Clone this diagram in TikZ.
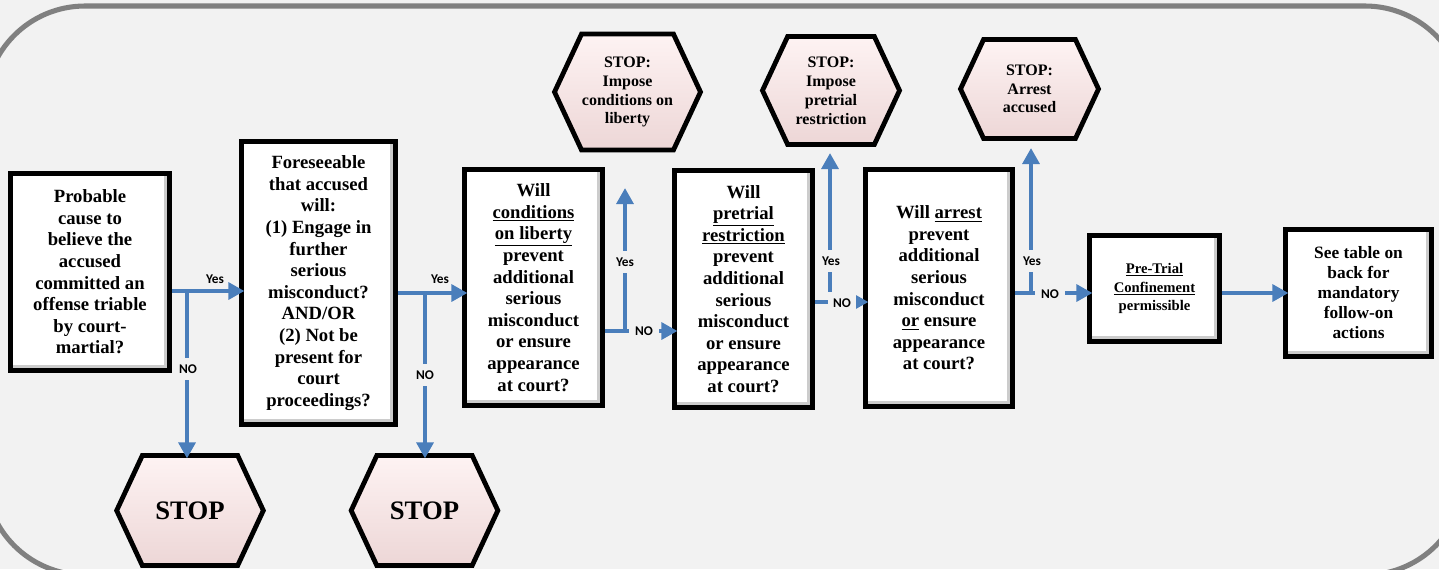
\documentclass[tikz,border=0pt]{standalone}
\usepackage{fontspec}
\setmainfont{Liberation Serif}
\newfontfamily\lblfont{Carlito}
\usepackage{tikz}
\usetikzlibrary{arrows.meta,shapes.symbols}
\definecolor{bgray}{RGB}{242,242,242}
\definecolor{framegray}{RGB}{128,128,128}
\definecolor{flowblue}{RGB}{74,126,187}
\definecolor{hexpink}{RGB}{252,228,228}

\begin{document}
\begin{tikzpicture}[x=0.75pt,y=-0.75pt,
		qbox/.style={draw=black,line width=3.6pt,fill=white,align=center,inner sep=0pt,
			font=\fontsize{14}{16.2}\selectfont\bfseries,
			path picture={\draw[black!20,line width=9pt] (path picture bounding box.south west) -- (path picture bounding box.south east) -- (path picture bounding box.north east);}},
		stophex/.style={signal,signal to=west and east,signal pointer angle=130,draw=black,line width=3.6pt,
			top color=hexpink!45!white,middle color=hexpink,bottom color=hexpink!94!black,align=center,inner sep=0pt},
		flow/.style={draw=flowblue,line width=3pt,shorten >=-4pt,-{Triangle[length=12pt,width=12.5pt]}},
		lbl/.style={font=\lblfont\bfseries\fontsize{10}{12}\selectfont,inner sep=1pt},
		cutlbl/.style={lbl,fill=bgray,inner sep=4.8pt}]
				\useasboundingbox (0,0) rectangle (1439,569);
				\clip (0,0) rectangle (1439,569);
				\fill[bgray] (0,0) rectangle (1439,569);
				\draw[framegray,line width=3.8pt,rounded corners=75pt] (-15,6) rectangle (1465,575);
				
				\node[qbox,minimum width=119.3pt,minimum height=147.8pt] (cause) at (90,272) {Probable\\cause to\\believe the\\accused\\committed an\\offense triable\\by court-\\martial?};
				\node[qbox,minimum width=115.5pt,minimum height=212.3pt] (foresee) at (318.5,283) {Foreseeable\\that accused\\will:\\(1) Engage in\\further\\serious\\misconduct?\\AND/OR\\(2) Not be\\present for\\court\\proceedings?};
				\node[qbox,minimum width=103.5pt,minimum height=177pt] (cond) at (533.5,287.5) {Will\\\underline{conditions}\\\underline{on liberty}\\prevent\\additional\\serious\\misconduct\\or ensure\\appearance\\at court?};
				\node[qbox,minimum width=103.5pt,minimum height=177.8pt] (restr) at (743.5,289) {Will\\\underline{pretrial}\\\underline{restriction}\\prevent\\additional\\serious\\misconduct\\or ensure\\appearance\\at court?};
				\node[qbox,minimum width=110.3pt,minimum height=177.8pt] (arrest) at (939,288) {Will \underline{arrest}\\prevent\\additional\\serious\\misconduct\\\underline{or} ensure\\appearance\\at court?};
				\node[qbox,minimum width=97.5pt,minimum height=79.5pt,font=\fontsize{11}{13.9}\selectfont\bfseries] (ptc) at (1154.5,288.5) {\underline{Pre-Trial}\\\underline{Confinement}\\permissible};
				\node[qbox,minimum width=109.5pt,minimum height=95.3pt,font=\fontsize{13}{15}\selectfont\bfseries] (table) at (1358.5,293) {See table on\\back for\\mandatory\\follow-on\\actions};
				
				\node[stophex,minimum width=109.5pt,minimum height=87pt,font=\fontsize{12}{14.2}\selectfont\bfseries] (stopcond) at (627.5,92) {STOP:\\Impose\\conditions on\\liberty};
				\node[stophex,minimum width=102.8pt,minimum height=81pt,font=\fontsize{12}{14.2}\selectfont\bfseries] (stoprestr) at (831,90.5) {STOP:\\Impose\\pretrial\\restriction};
				\node[stophex,minimum width=103.5pt,minimum height=74.3pt,font=\fontsize{12}{14}\selectfont\bfseries] (stoparrest) at (1029.5,89) {STOP:\\Arrest\\accused};
				\node[stophex,minimum width=110pt,minimum height=82.5pt,font=\fontsize{20}{24}\selectfont\bfseries] (stopa) at (190,510.5) {STOP};
				\node[stophex,minimum width=110pt,minimum height=82.5pt,font=\fontsize{20}{24}\selectfont\bfseries] (stopb) at (424.5,510.5) {STOP};
				
				\coordinate (j1) at (187,291);
				\coordinate (j2) at (425,293);
				\coordinate (j3) at (625,331);
				\coordinate (t3) at (625,188);
				\coordinate (j4) at (830,302);
				\coordinate (t4) at (830,153);
				\coordinate (j5) at (1031,293);
				\coordinate (t5) at (1031,148);
				
				\draw[flow] (cause.east |- j1) -- (foresee.west |- j1);
				\draw[flow] (j1) -- (j1 |- stopa.north);
				\draw[flow] (foresee.east |- j2) -- (cond.west |- j2);
				\draw[flow] (j2) -- (j2 |- stopb.north);
				\draw[flow] (cond.east |- j3) -- (restr.west |- j3);
				\draw[flow,shorten >=0pt] (j3) -- (t3);
				\draw[flow] (restr.east |- j4) -- (arrest.west |- j4);
				\draw[flow,shorten >=0pt] (j4) -- (t4);
				\draw[flow] (arrest.east |- j5) -- (ptc.west |- j5);
				\draw[flow,shorten >=0pt] (j5) -- (t5);
				\draw[flow] (ptc.east |- table.west) -- (table.west);
				
				\node[lbl] (yes1) at (215,279) {Yes};
				\node[cutlbl] (no1) at (188,369) {NO};
				\node[lbl] (yes2) at (440,279) {Yes};
				\node[cutlbl] (no2) at (425,375) {NO};
				\node[cutlbl] (yes3) at (625,262) {Yes};
				\node[cutlbl] (no3) at (644,331) {NO};
				\node[cutlbl] (yes4) at (831,261) {Yes};
				\node[cutlbl,inner xsep=3.5pt] (no4) at (842,303) {NO};
				\node[cutlbl] (yes5) at (1032,261) {Yes};
				\node[cutlbl] (no5) at (1050,294) {NO};
			\end{tikzpicture}
\end{document}
